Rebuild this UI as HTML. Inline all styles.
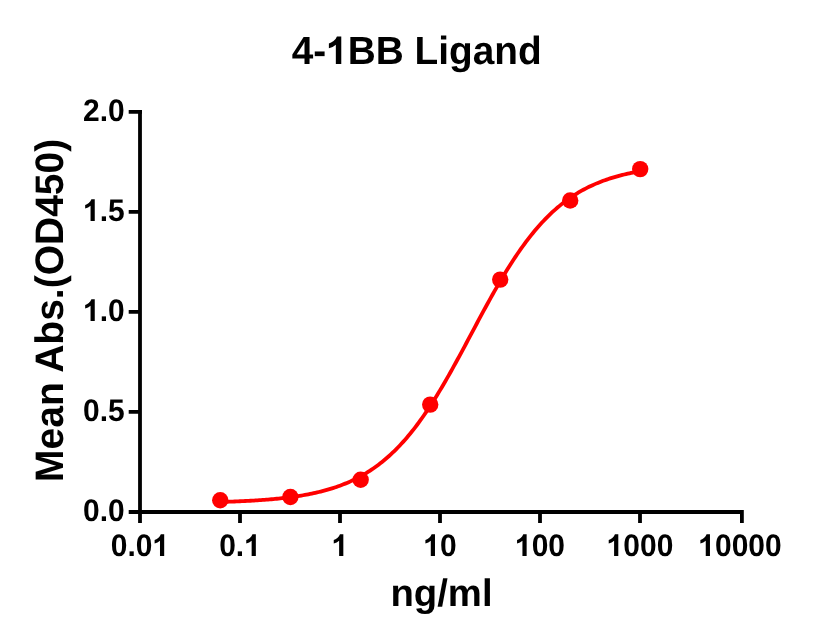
<!DOCTYPE html>
<html><head><meta charset="utf-8"><title>4-1BB Ligand</title><style>
html,body{margin:0;padding:0;background:#fff;}
svg{display:block;will-change:transform;}
text{font-family:"Liberation Sans",sans-serif;font-weight:bold;fill:#000;text-rendering:geometricPrecision;}
.g1{fill-opacity:0;}
</style></head><body>
<svg width="832" height="642" viewBox="0 0 832 642">
<rect width="832" height="642" fill="#fff"/>
<g stroke="#000" stroke-width="3.8" fill="none">
<path d="M140 110.1V523M128.7 512H741.9V523"/>
<path d="M128.7 111.9H142M128.7 211.9H140M128.7 311.9H140M128.7 411.9H140"/>
<path d="M240 512V523M340 512V523M440 512V523M540 512V523M640 512V523"/>
</g>
<text transform="translate(416.7,63.9) scale(1,1.015)" font-size="38.8" text-anchor="middle">4-<tspan class="g1">1</tspan>BB Ligand</text>
<text transform="translate(124.8,121) scale(1,1.04)" font-size="30" text-anchor="end">2.0</text>
<text transform="translate(124.8,221) scale(1,1.04)" font-size="30" text-anchor="end"><tspan class="g1">1</tspan>.5</text>
<text transform="translate(124.8,321) scale(1,1.04)" font-size="30" text-anchor="end"><tspan class="g1">1</tspan>.0</text>
<text transform="translate(124.8,421) scale(1,1.04)" font-size="30" text-anchor="end">0.5</text>
<text transform="translate(124.8,521) scale(1,1.04)" font-size="30" text-anchor="end">0.0</text>
<text transform="translate(140,556) scale(1,1.04)" font-size="30" text-anchor="middle">0.0<tspan class="g1">1</tspan></text>
<text transform="translate(240,556) scale(1,1.04)" font-size="30" text-anchor="middle">0.<tspan class="g1">1</tspan></text>
<text transform="translate(340,556) scale(1,1.04)" font-size="30" text-anchor="middle"><tspan class="g1">1</tspan></text>
<text transform="translate(440,556) scale(1,1.04)" font-size="30" text-anchor="middle"><tspan class="g1">1</tspan>0</text>
<text transform="translate(540,556) scale(1,1.04)" font-size="30" text-anchor="middle"><tspan class="g1">1</tspan>00</text>
<text transform="translate(640,556) scale(1,1.04)" font-size="30" text-anchor="middle"><tspan class="g1">1</tspan>000</text>
<text transform="translate(740,556) scale(1,1.04)" font-size="30" text-anchor="middle"><tspan class="g1">1</tspan>0000</text>
<text transform="translate(441.5,605.8)" font-size="38.3" text-anchor="middle">ng/ml</text>
<text transform="translate(63.1,310.35) rotate(-90) scale(1,1.02)" font-size="39" text-anchor="middle">Mean Abs.(OD450)</text>
<g>
<path transform="translate(416.7,63.9) scale(1,1.015) translate(-90.523,0) scale(0.018945,-0.018945)" d="M797 0H510V998Q356 857 143 814V1056Q258 1090 388 1187Q518 1283 568 1420H797Z"/>
<path transform="translate(124.8,221) scale(1,1.04) translate(-41.719,0) scale(0.014648,-0.014648)" d="M797 0H510V998Q356 857 143 814V1056Q258 1090 388 1187Q518 1283 568 1420H797Z"/>
<path transform="translate(124.8,321) scale(1,1.04) translate(-41.719,0) scale(0.014648,-0.014648)" d="M797 0H510V998Q356 857 143 814V1056Q258 1090 388 1187Q518 1283 568 1420H797Z"/>
<path transform="translate(140,556) scale(1,1.04) translate(12.516,0) scale(0.014648,-0.014648)" d="M797 0H510V998Q356 857 143 814V1056Q258 1090 388 1187Q518 1283 568 1420H797Z"/>
<path transform="translate(240,556) scale(1,1.04) translate(4.172,0) scale(0.014648,-0.014648)" d="M797 0H510V998Q356 857 143 814V1056Q258 1090 388 1187Q518 1283 568 1420H797Z"/>
<path transform="translate(340,556) scale(1,1.04) translate(-8.344,0) scale(0.014648,-0.014648)" d="M797 0H510V998Q356 857 143 814V1056Q258 1090 388 1187Q518 1283 568 1420H797Z"/>
<path transform="translate(440,556) scale(1,1.04) translate(-16.688,0) scale(0.014648,-0.014648)" d="M797 0H510V998Q356 857 143 814V1056Q258 1090 388 1187Q518 1283 568 1420H797Z"/>
<path transform="translate(540,556) scale(1,1.04) translate(-25.031,0) scale(0.014648,-0.014648)" d="M797 0H510V998Q356 857 143 814V1056Q258 1090 388 1187Q518 1283 568 1420H797Z"/>
<path transform="translate(640,556) scale(1,1.04) translate(-33.375,0) scale(0.014648,-0.014648)" d="M797 0H510V998Q356 857 143 814V1056Q258 1090 388 1187Q518 1283 568 1420H797Z"/>
<path transform="translate(740,556) scale(1,1.04) translate(-41.719,0) scale(0.014648,-0.014648)" d="M797 0H510V998Q356 857 143 814V1056Q258 1090 388 1187Q518 1283 568 1420H797Z"/>
</g>
<polyline points="220.62,501.96 222.37,501.91 224.13,501.85 225.88,501.80 227.64,501.74 229.39,501.68 231.15,501.61 232.90,501.55 234.66,501.48 236.41,501.41 238.17,501.34 239.92,501.26 241.67,501.18 243.43,501.10 245.18,501.01 246.94,500.92 248.69,500.83 250.45,500.73 252.20,500.63 253.96,500.53 255.71,500.42 257.47,500.31 259.22,500.19 260.98,500.07 262.73,499.94 264.49,499.81 266.24,499.68 268.00,499.54 269.75,499.39 271.51,499.24 273.26,499.08 275.01,498.92 276.77,498.74 278.52,498.57 280.28,498.38 282.03,498.19 283.79,498.00 285.54,497.79 287.30,497.58 289.05,497.35 290.81,497.12 292.56,496.89 294.32,496.64 296.07,496.38 297.83,496.11 299.58,495.84 301.34,495.55 303.09,495.25 304.85,494.94 306.60,494.62 308.35,494.28 310.11,493.94 311.86,493.58 313.62,493.21 315.37,492.82 317.13,492.42 318.88,492.01 320.64,491.58 322.39,491.13 324.15,490.67 325.90,490.19 327.66,489.69 329.41,489.18 331.17,488.64 332.92,488.09 334.68,487.52 336.43,486.93 338.19,486.31 339.94,485.68 341.69,485.02 343.45,484.34 345.20,483.63 346.96,482.90 348.71,482.15 350.47,481.36 352.22,480.56 353.98,479.72 355.73,478.86 357.49,477.96 359.24,477.04 361.00,476.09 362.75,475.10 364.51,474.08 366.26,473.03 368.02,471.95 369.77,470.83 371.53,469.67 373.28,468.48 375.03,467.25 376.79,465.98 378.54,464.68 380.30,463.33 382.05,461.94 383.81,460.52 385.56,459.05 387.32,457.53 389.07,455.98 390.83,454.38 392.58,452.73 394.34,451.04 396.09,449.31 397.85,447.52 399.60,445.69 401.36,443.82 403.11,441.89 404.87,439.92 406.62,437.89 408.37,435.82 410.13,433.70 411.88,431.53 413.64,429.32 415.39,427.05 417.15,424.73 418.90,422.37 420.66,419.96 422.41,417.49 424.17,414.98 425.92,412.43 427.68,409.82 429.43,407.18 431.19,404.48 432.94,401.74 434.70,398.96 436.45,396.14 438.21,393.28 439.96,390.37 441.71,387.43 443.47,384.45 445.22,381.44 446.98,378.40 448.73,375.32 450.49,372.21 452.24,369.08 454.00,365.92 455.75,362.73 457.51,359.53 459.26,356.30 461.02,353.06 462.77,349.80 464.53,346.53 466.28,343.26 468.04,339.97 469.79,336.68 471.55,333.38 473.30,330.09 475.05,326.80 476.81,323.51 478.56,320.23 480.32,316.96 482.07,313.70 483.83,310.46 485.58,307.23 487.34,304.03 489.09,300.84 490.85,297.68 492.60,294.54 494.36,291.43 496.11,288.35 497.87,285.30 499.62,282.29 501.38,279.30 503.13,276.36 504.89,273.45 506.64,270.58 508.39,267.76 510.15,264.97 511.90,262.23 513.66,259.53 515.41,256.88 517.17,254.27 518.92,251.71 520.68,249.20 522.43,246.73 524.19,244.31 525.94,241.94 527.70,239.62 529.45,237.35 531.21,235.13 532.96,232.95 534.72,230.83 536.47,228.75 538.23,226.73 539.98,224.75 541.73,222.82 543.49,220.94 545.24,219.10 547.00,217.32 548.75,215.58 550.51,213.88 552.26,212.23 554.02,210.63 555.77,209.07 557.53,207.55 559.28,206.08 561.04,204.64 562.79,203.25 564.55,201.90 566.30,200.59 568.06,199.32 569.81,198.09 571.57,196.89 573.32,195.74 575.07,194.61 576.83,193.52 578.58,192.47 580.34,191.45 582.09,190.46 583.85,189.50 585.60,188.58 587.36,187.68 589.11,186.81 590.87,185.98 592.62,185.17 594.38,184.38 596.13,183.62 597.89,182.89 599.64,182.18 601.40,181.50 603.15,180.84 604.91,180.20 606.66,179.59 608.41,178.99 610.17,178.42 611.92,177.86 613.68,177.33 615.43,176.81 617.19,176.31 618.94,175.83 620.70,175.37 622.45,174.92 624.21,174.49 625.96,174.07 627.72,173.67 629.47,173.28 631.23,172.91 632.98,172.55 634.74,172.20 636.49,171.87 638.25,171.54 640.00,171.23" fill="none" stroke="#f00" stroke-width="3.8" stroke-linejoin="round"/>
<g fill="#f00"><circle cx="220.25" cy="500.3" r="8.2"/><circle cx="290.4" cy="497.05" r="8.2"/><circle cx="360.65" cy="479.7" r="8.2"/><circle cx="430.2" cy="404.6" r="8.2"/><circle cx="500.2" cy="279.6" r="8.2"/><circle cx="570.2" cy="200.5" r="8.2"/><circle cx="640.2" cy="169.1" r="8.2"/></g>
</svg>
</body></html>
